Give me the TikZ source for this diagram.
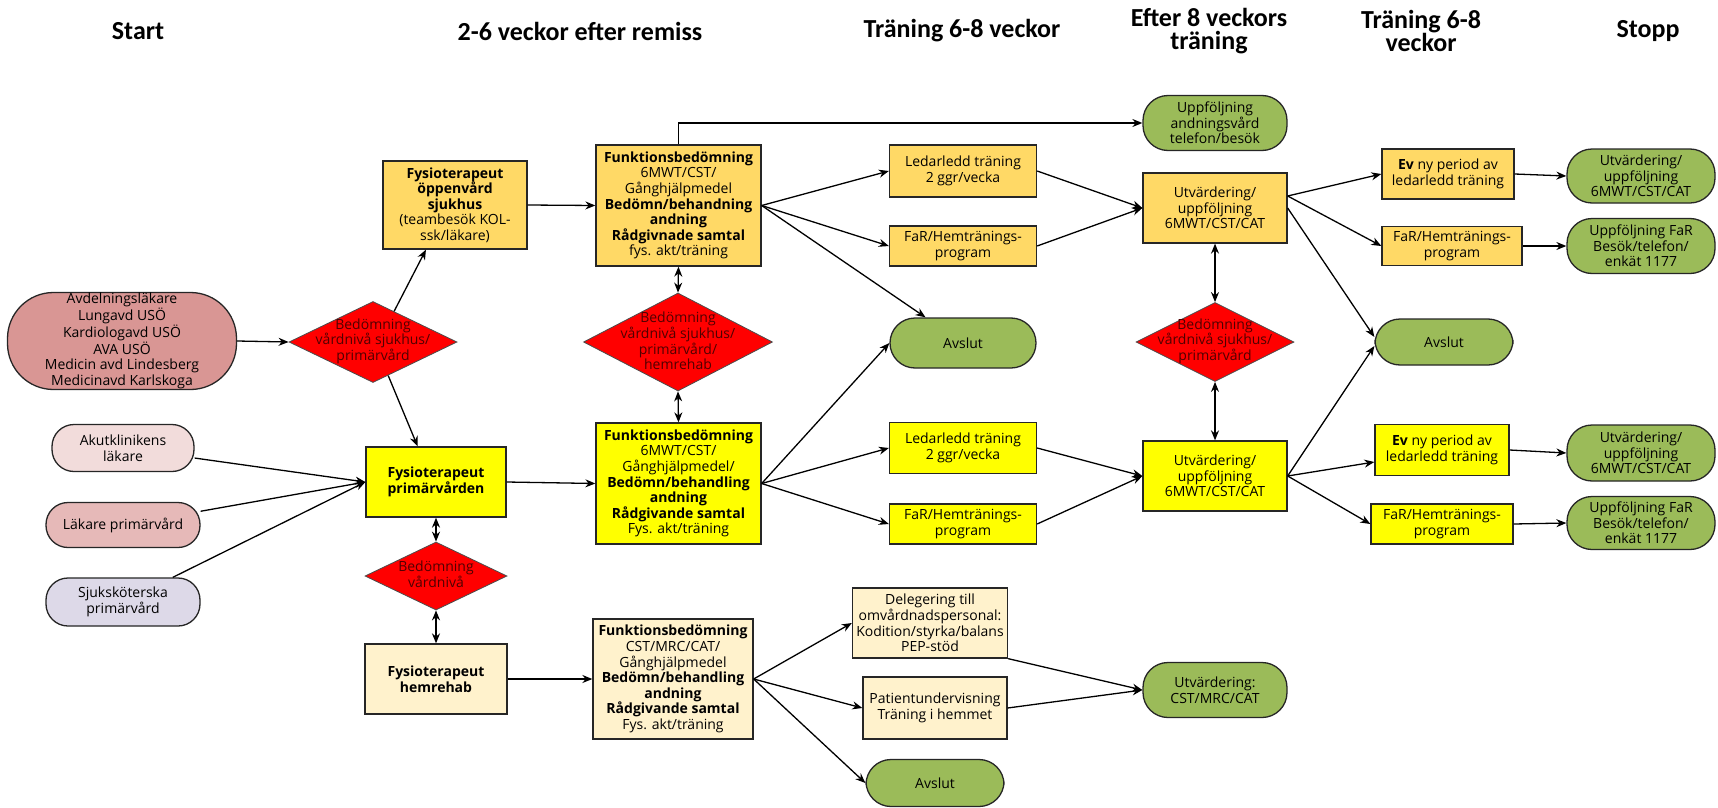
\documentclass[tikz,border=0pt]{standalone}
\usepackage{fontspec}
\setmainfont{Open Sans}
\newfontfamily\headfont{Carlito}
\usetikzlibrary{shapes.geometric,arrows.meta,calc}
\definecolor{orbox}{RGB}{255,217,102}
\definecolor{yelbox}{RGB}{255,255,0}
\definecolor{crbox}{RGB}{255,242,204}
\definecolor{grn}{RGB}{155,187,89}
\definecolor{redd}{RGB}{255,0,0}
\definecolor{rose}{RGB}{217,150,148}
\definecolor{pinkl}{RGB}{242,220,219}
\definecolor{pinkm}{RGB}{230,185,184}
\definecolor{lav}{RGB}{221,217,232}
\definecolor{dtxt}{RGB}{80,0,0}
\newcommand\bodysz{\fontsize{14}{15.6}\selectfont}
\begin{document}
\begin{tikzpicture}[x=1pt,y=-1pt,
  head/.style={font=\headfont\bfseries\fontsize{26}{23}\selectfont, align=center, inner sep=0pt},
  base/.style={draw=black!85, line width=1.3pt, align=center, inner sep=0pt, font=\bodysz},
  obox/.style={base, fill=orbox},
  ybox/.style={base, fill=yelbox},
  cbox/.style={base, fill=crbox},
  gell/.style={base, fill=grn, rounded corners=25pt},
  sell/.style={base, rounded corners=22pt},
  diam/.style={diamond, draw=black!70, line width=0.8pt, fill=redd, inner sep=0pt},
  dtext/.style={font=\bodysz, text=dtxt, align=center, inner sep=0pt},
  arr/.style={draw=black, line width=1.3pt, -{Stealth[length=10pt,width=8pt]}},
  darr/.style={draw=black, line width=1.3pt, {Stealth[length=10pt,width=8pt]}-{Stealth[length=10pt,width=8pt]}}
]
\useasboundingbox (0,0) rectangle (1718,808);
\fill[white] (0,0) rectangle (1718,808);

% headers
\node[head] (h1) at (138,31) {Start};
\node[head] (h2) at (580,31) {2-6 veckor efter remiss};
\node[head] (h3) at (962,31) {Träning 6-8 veckor};
\node[head] (h4) at (1209,31) {Efter 8 veckors\\träning};
\node[head] (h5) at (1421,31) {Träning 6-8\\veckor};
\node[head] (h6) at (1648,31) {Stopp};

% start column
\node[sell, fill=rose, rounded corners=46pt, minimum width=229pt, minimum height=97pt] (start1) at (122,341)
  {Avdelningsläkare\\Lungavd USÖ\\Kardiologavd USÖ\\AVA USÖ\\Medicin avd Lindesberg\\Medicinavd Karlskoga};
\node[sell, fill=pinkl, minimum width=142pt, minimum height=47pt] (akut) at (123,448) {Akutklinikens\\läkare};
\node[sell, fill=pinkm, minimum width=154pt, minimum height=45pt] (lak) at (123,525) {Läkare primärvård};
\node[sell, fill=lav, minimum width=154pt, minimum height=48pt] (sjuk) at (123,602) {Sjuksköterska\\primärvård};

% first decision column
\node[diam, minimum width=168pt, minimum height=81pt] (d1) at (373,342) {};
\node[dtext] (d1t) at (373,341) {Bedömning\\vårdnivå sjukhus/\\primärvård};
\node[obox, minimum width=144pt, minimum height=88pt] (oppen) at (455,205)
  {\textbf{Fysioterapeut}\\\textbf{öppenvård}\\\textbf{sjukhus}\\(teambesök KOL-\\ssk/läkare)};
\node[ybox, minimum width=140pt, minimum height=70pt] (prim) at (436,482) {\textbf{Fysioterapeut}\\\textbf{primärvården}};
\node[diam, minimum width=142pt, minimum height=68pt] (d3) at (436,576) {};
\node[dtext] (d3t) at (436,574) {Bedömning\\vårdnivå};
\node[cbox, minimum width=142pt, minimum height=70pt] (hem) at (436,679) {\textbf{Fysioterapeut}\\\textbf{hemrehab}};

% assessment column
\node[obox, minimum width=165pt, minimum height=121pt] (funkT) at (678.5,205.5)
  {\textbf{Funktionsbedömning}\\6MWT/CST/\\Gånghjälpmedel\\\textbf{Bedömn/behandning}\\\textbf{andning}\\\textbf{Rådgivnade samtal}\\fys. akt/träning};
\node[diam, minimum width=189pt, minimum height=98pt] (d2) at (678,342) {};
\node[dtext] (d2t) at (678,341) {Bedömning\\vårdnivå sjukhus/\\primärvård/\\hemrehab};
\node[ybox, minimum width=165pt, minimum height=121pt] (funkM) at (678.5,483.5)
  {\textbf{Funktionsbedömning}\\6MWT/CST/\\Gånghjälpmedel/\\\textbf{Bedömn/behandling}\\\textbf{andning}\\\textbf{Rådgivande samtal}\\Fys. akt/träning};
\node[cbox, minimum width=160pt, minimum height=120pt] (funkB) at (673,679)
  {\textbf{Funktionsbedömning}\\CST/MRC/CAT/\\Gånghjälpmedel\\\textbf{Bedömn/behandling}\\\textbf{andning}\\\textbf{Rådgivande samtal}\\Fys. akt/träning};

% training column
\node[obox, minimum width=147pt, minimum height=52pt] (ledT) at (963,171) {Ledarledd träning\\2 ggr/vecka};
\node[obox, minimum width=147pt, minimum height=40pt] (farT) at (963,246) {FaR/Hemtränings-\\program};
\node[gell, minimum width=146pt, minimum height=50pt] (avslT) at (963,343) {Avslut};
\node[ybox, minimum width=147pt, minimum height=51pt] (ledM) at (963,448) {Ledarledd träning\\2 ggr/vecka};
\node[ybox, minimum width=147pt, minimum height=40pt] (farM) at (963,524) {FaR/Hemtränings-\\program};
\node[cbox, minimum width=155pt, minimum height=70pt] (del) at (930,623) {Delegering till\\omvårdnadspersonal:\\Kodition/styrka/balans\\PEP-stöd};
\node[cbox, minimum width=144pt, minimum height=62pt] (pat) at (935,708) {Patientundervisning\\Träning i hemmet};
\node[gell, minimum width=138pt, minimum height=47pt] (avslB) at (935,783) {Avslut};

% after 8 weeks column
\node[gell, minimum width=144pt, minimum height=55pt] (upp) at (1215,123) {Uppföljning\\andningsvård\\telefon/besök};
\node[obox, minimum width=144pt, minimum height=70pt] (utvT) at (1215,208) {Utvärdering/\\uppföljning\\6MWT/CST/CAT};
\node[diam, minimum width=158pt, minimum height=79pt] (d4) at (1215,342) {};
\node[dtext] (d4t) at (1215,341) {Bedömning\\vårdnivå sjukhus/\\primärvård};
\node[ybox, minimum width=144pt, minimum height=70pt] (utvM) at (1215,476) {Utvärdering/\\uppföljning\\6MWT/CST/CAT};
\node[gell, minimum width=144pt, minimum height=55pt] (utvB) at (1215,690) {Utvärdering:\\CST/MRC/CAT};

% second training column
\node[obox, minimum width=132pt, minimum height=50pt] (evT) at (1448,174) {\textbf{Ev} ny period av\\ledarledd träning};
\node[obox, minimum width=140pt, minimum height=39pt] (farT2) at (1452,246) {FaR/Hemtränings-\\program};
\node[gell, minimum width=138pt, minimum height=46pt] (avslR) at (1444,342) {Avslut};
\node[ybox, minimum width=134pt, minimum height=51pt] (evM) at (1442,450) {\textbf{Ev} ny period av\\ledarledd träning};
\node[ybox, minimum width=142pt, minimum height=40pt] (farM2) at (1442,524) {FaR/Hemtränings-\\program};

% stop column
\node[gell, minimum width=148pt, minimum height=54pt] (ellT) at (1641,176) {Utvärdering/\\uppföljning\\6MWT/CST/CAT};
\node[gell, minimum width=148pt, minimum height=55pt] (ellF) at (1641,246) {Uppföljning FaR\\Besök/telefon/\\enkät 1177};
\node[gell, minimum width=148pt, minimum height=56pt] (ellM) at (1641,453) {Utvärdering/\\uppföljning\\6MWT/CST/CAT};
\node[gell, minimum width=148pt, minimum height=53pt] (ellFM) at (1641,523) {Uppföljning FaR\\Besök/telefon/\\enkät 1177};

% connectors: start
\draw[arr] (start1.east) -- (d1.west);
\draw[arr] ($(d1.north)!0.25!(d1.east)$) -- ($(oppen.south west)!0.3!(oppen.south east)$);
\draw[arr] ($(d1.south)!0.18!(d1.east)$) -- ($(prim.north west)!0.37!(prim.north east)$);
\draw[arr] (akut) -- (prim.west);
\draw[arr] (lak) -- (prim.west);
\draw[arr] (sjuk) -- (prim.west);
\draw[darr] (prim.south) -- (d3.north);
\draw[darr] (d3.south) -- (hem.north);

% to assessment
\draw[arr] (oppen.east) -- (funkT.west);
\draw[arr] (prim.east) -- (funkM.west);
\draw[arr] (hem.east) -- (funkB.west);
\draw[darr] (funkT.south) -- (d2.north);
\draw[darr] (d2.south) -- (funkM.north);
\draw[arr] (funkT.north) |- (upp.west);

% from assessment
\draw[arr] (funkT.east) -- (ledT.west);
\draw[arr] (funkT.east) -- (farT.west);
\draw[arr] (funkT.east) -- (avslT);
\draw[arr] (funkM.east) -- (ledM.west);
\draw[arr] (funkM.east) -- (farM.west);
\draw[arr] (funkM.east) -- (avslT.west);
\draw[arr] (funkB.east) -- (del.west);
\draw[arr] (funkB.east) -- (pat.west);
\draw[arr] (funkB.east) -- (avslB.west);

% to evaluation
\draw[arr] (ledT.east) -- (utvT.west);
\draw[arr] (farT.east) -- (utvT.west);
\draw[arr] (ledM.east) -- (utvM.west);
\draw[arr] (farM.east) -- (utvM.west);
\draw[arr] (del.south east) -- (utvB.west);
\draw[arr] (pat.east) -- (utvB.west);
\draw[darr] (utvT.south) -- (d4.north);
\draw[darr] (d4.south) -- (utvM.north);

% from evaluation
\coordinate (uTo) at ($(utvT.east)+(0,-12)$);
\draw[arr] (uTo) -- (evT.west);
\draw[arr] (uTo) -- (farT2.west);
\draw[arr] (utvT.east) -- ($(avslR.west)+(0,-5)$);
\draw[arr] (utvM.east) -- ($(evM.west)+(0,12)$);
\draw[arr] (utvM.east) -- (farM2.west);
\draw[arr] (utvM.east) -- ($(avslR.west)+(0,4)$);

% to stop
\draw[arr] (evT.east) -- (ellT.west);
\draw[arr] (farT2.east) -- (ellF.west);
\draw[arr] (evM.east) -- (ellM.west);
\draw[arr] (farM2.east) -- (ellFM.west);
\end{tikzpicture}
\end{document}
